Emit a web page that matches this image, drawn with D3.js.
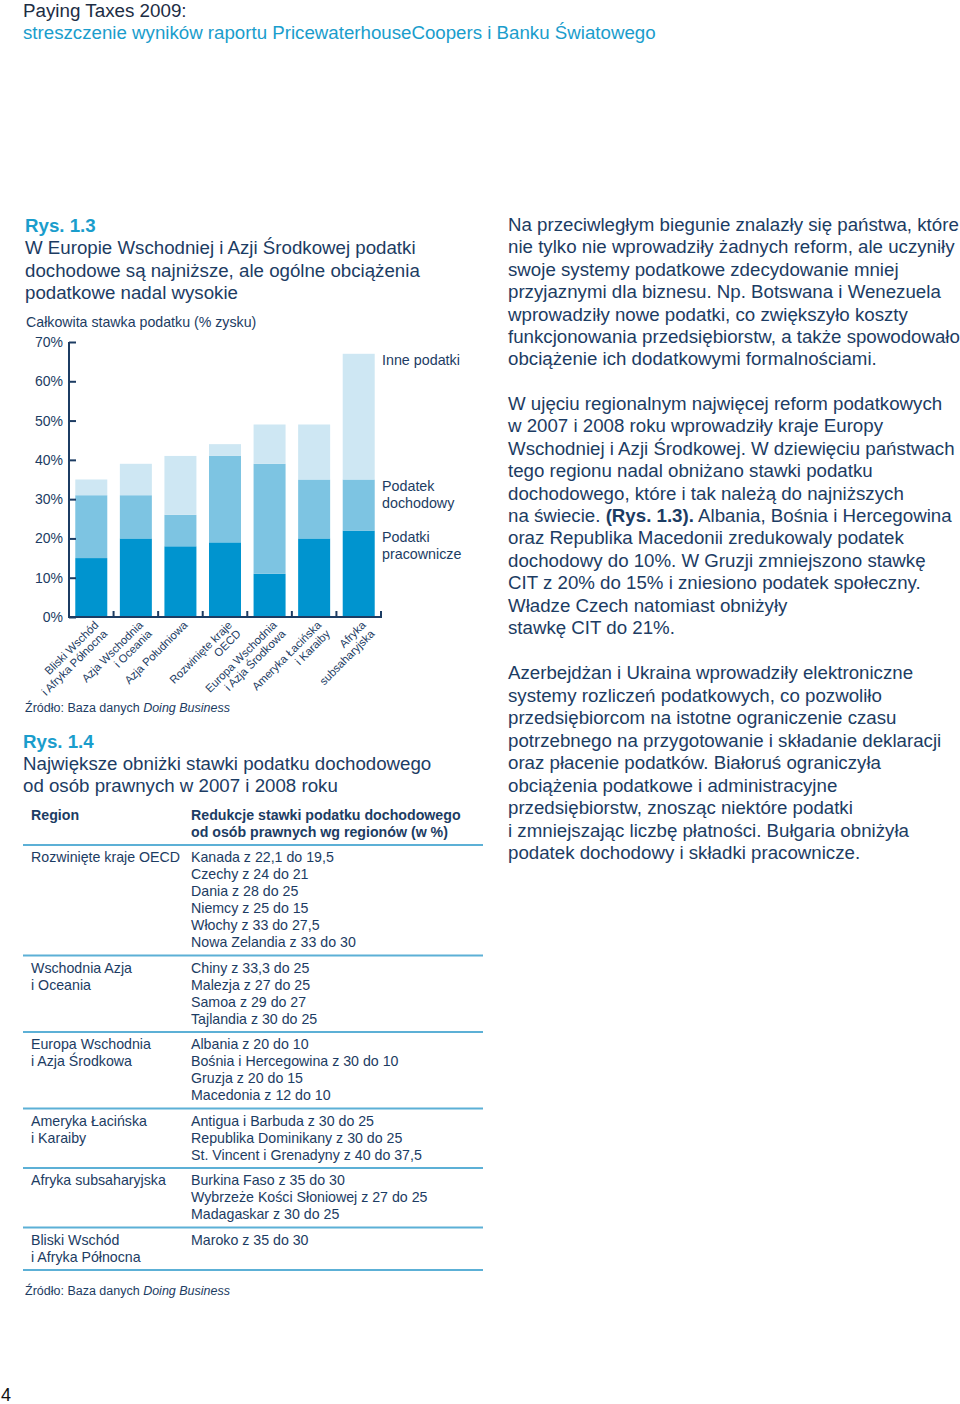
<!DOCTYPE html>
<html><head><meta charset="utf-8">
<script src="https://cdn.jsdelivr.net/npm/d3@7"></script>
<style>
html,body{margin:0;padding:0;background:#fff;}
svg{display:block;font-family:"Liberation Sans",Arial,sans-serif;}
</style></head>
<body>
<script>
// ---- data ----
const categories = [
  ["Bliski Wschód","i Afryka Północna"],
  ["Azja Wschodnia","i Oceania"],
  ["Azja Południowa"],
  ["Rozwinięte kraje","OECD"],
  ["Europa Wschodnia","i Azja Środkowa"],
  ["Ameryka Łacińska","i Karaiby"],
  ["Afryka","subsaharyjska"]
];
const labourTax = [15, 20, 18, 19, 11, 20, 22];
const profitTax = [16, 11, 8, 22, 28, 15, 13];
const otherTax  = [4, 8, 15, 3, 10, 14, 32];
const seriesNames = ["Podatki pracownicze", "Podatek dochodowy", "Inne podatki"];
const yTicks = [0, 10, 20, 30, 40, 50, 60, 70];

const tableRegions = [
  ["Rozwinięte kraje OECD"],
  ["Wschodnia Azja","i Oceania"],
  ["Europa Wschodnia","i Azja Środkowa"],
  ["Ameryka Łacińska","i Karaiby"],
  ["Afryka subsaharyjska"],
  ["Bliski Wschód","i Afryka Północna"]
];
const tableReductions = [
  ["Kanada z 22,1 do 19,5","Czechy z 24 do 21","Dania z 28 do 25","Niemcy z 25 do 15","Włochy z 33 do 27,5","Nowa Zelandia z 33 do 30"],
  ["Chiny z 33,3 do 25","Malezja z 27 do 25","Samoa z 29 do 27","Tajlandia z 30 do 25"],
  ["Albania z 20 do 10","Bośnia i Hercegowina z 30 do 10","Gruzja z 20 do 15","Macedonia z 12 do 10"],
  ["Antigua i Barbuda z 30 do 25","Republika Dominikany z 30 do 25","St. Vincent i Grenadyny z 40 do 37,5"],
  ["Burkina Faso z 35 do 30","Wybrzeże Kości Słoniowej z 27 do 25","Madagaskar z 30 do 25"],
  ["Maroko z 35 do 30"]
];

const para1 = [
  "Na przeciwległym biegunie znalazły się państwa, które",
  "nie tylko nie wprowadziły żadnych reform, ale uczyniły",
  "swoje systemy podatkowe zdecydowanie mniej",
  "przyjaznymi dla biznesu. Np. Botswana i Wenezuela",
  "wprowadziły nowe podatki, co zwiększyło koszty",
  "funkcjonowania przedsiębiorstw, a także spowodowało",
  "obciążenie ich dodatkowymi formalnościami."
];
const para2 = [
  [["W ujęciu regionalnym najwięcej reform podatkowych"]],
  [["w 2007 i 2008 roku wprowadziły kraje Europy"]],
  [["Wschodniej i Azji Środkowej. W dziewięciu państwach"]],
  [["tego regionu nadal obniżano stawki podatku"]],
  [["dochodowego, które i tak należą do najniższych"]],
  [["na świecie. "],["(Rys. 1.3).","b"],[" Albania, Bośnia i Hercegowina"]],
  [["oraz Republika Macedonii zredukowaly podatek"]],
  [["dochodowy do 10%. W Gruzji zmniejszono stawkę"]],
  [["CIT z 20% do 15% i zniesiono podatek społeczny."]],
  [["Władze Czech natomiast obniżyły"]],
  [["stawkę CIT do 21%."]]
];
const para3 = [
  "Azerbejdżan i Ukraina wprowadziły elektroniczne",
  "systemy rozliczeń podatkowych, co pozwoliło",
  "przedsiębiorcom na istotne ograniczenie czasu",
  "potrzebnego na przygotowanie i składanie deklaracji",
  "oraz płacenie podatków. Białoruś ograniczyła",
  "obciążenia podatkowe i administracyjne",
  "przedsiębiorstw, znosząc niektóre podatki",
  "i zmniejszając liczbę płatności. Bułgaria obniżyła",
  "podatek dochodowy i składki pracownicze."
];

// ---- styles ----
const NAVY = "#1c3c63";
const CYAN = "#1a9dcc";
const LINE = "#5cb0d6";
const colors = ["#0094cf", "#7dc4e2", "#cee7f3"];
const BIG = 18.7, SMALL = 14.2;

const svg = d3.select("body").append("svg").attr("width", 960).attr("height", 1404);

// header
svg.append("text").attr("x", 23).attr("y", 17).attr("font-size", 18.8).attr("fill", "#1d2d44").text("Paying Taxes 2009:");
svg.append("text").attr("x", 23).attr("y", 39).attr("font-size", 18.7).attr("fill", CYAN).text("streszczenie wyników raportu PricewaterhouseCoopers i Banku Światowego");

// figure 1.3 titles
svg.append("text").attr("x", 25).attr("y", 232).attr("font-size", BIG).attr("font-weight", "bold").attr("fill", CYAN).text("Rys. 1.3");
["W Europie Wschodniej i Azji Środkowej podatki","dochodowe są najniższe, ale ogólne obciążenia","podatkowe nadal wysokie"].forEach((t,i)=>{
  svg.append("text").attr("x", 25).attr("y", 254 + i*22.5).attr("font-size", BIG).attr("fill", NAVY).text(t);
});
svg.append("text").attr("x", 26).attr("y", 327).attr("font-size", SMALL).attr("fill", NAVY).text("Całkowita stawka podatku (% zysku)");

// chart
const x = d3.scaleBand().domain(d3.range(categories.length)).range([69, 381]).paddingInner(0.282).paddingOuter(0.141);
const y = d3.scaleLinear().domain([0, 70]).range([617, 342]);

const stackData = categories.map((c,i)=>({i, labour: labourTax[i], profit: profitTax[i], other: otherTax[i]}));
const stack = d3.stack().keys(["labour","profit","other"])(stackData);
const g = svg.append("g");
g.selectAll("g.series").data(stack).join("g").attr("fill", (d,k)=>colors[k])
  .selectAll("rect").data(d=>d).join("rect")
  .attr("x", d=>x(d.data.i)).attr("width", x.bandwidth())
  .attr("y", d=>y(d[1])).attr("height", d=>y(d[0]) - y(d[1]));

// y axis
const yAxis = g.append("g").attr("transform", "translate(69,0)")
  .call(d3.axisRight(y).tickValues(yTicks).tickSize(7).tickFormat(""));
yAxis.selectAll("path,line").attr("stroke", NAVY).attr("stroke-width", 2);
yAxis.select(".domain").attr("d", `M0,${y(70)}V${y(0)}`);
g.selectAll("text.ytick").data(yTicks).join("text").attr("class","ytick")
  .attr("x", 63).attr("y", d=>y(d)+5).attr("text-anchor","end").attr("font-size", 14).attr("fill", NAVY)
  .text(d=>d + "%");

// x axis
g.append("line").attr("x1", 68).attr("x2", 382).attr("y1", y(0)).attr("y2", y(0)).attr("stroke", NAVY).attr("stroke-width", 2);
const step = x.step();
g.selectAll("line.xtick").data(d3.range(1, categories.length + 1)).join("line").attr("class","xtick")
  .attr("x1", d=>69 + d*step).attr("x2", d=>69 + d*step)
  .attr("y1", y(0)).attr("y2", y(0) - 6).attr("stroke", NAVY).attr("stroke-width", 2);

// x labels
categories.forEach((lines,i)=>{
  const cx = x(i) + x.bandwidth()/2 + 5;
  const t = g.append("text").attr("transform", `translate(${cx},${y(0)+6}) rotate(-45)`)
    .attr("text-anchor","end").attr("font-size", 11.3).attr("fill", NAVY);
  lines.forEach((l,j)=>{
    t.append("tspan").attr("x", 0).attr("dy", j===0 ? "0.35em" : "1.1em").text(l);
  });
});

// series labels
const legend = [
  {lines:["Inne podatki"], y:365},
  {lines:["Podatek","dochodowy"], y:491},
  {lines:["Podatki","pracownicze"], y:542}
];
legend.forEach(L=>{
  L.lines.forEach((l,j)=>{
    svg.append("text").attr("x", 382).attr("y", L.y + j*16.5).attr("font-size", 14.3).attr("fill", NAVY).text(l);
  });
});

// source
function source(yy){
  const t = svg.append("text").attr("x", 25).attr("y", yy).attr("font-size", 12.5).attr("fill", NAVY);
  t.append("tspan").text("Źródło: Baza danych ");
  t.append("tspan").attr("font-style","italic").text("Doing Business");
}
source(712);

// figure 1.4
svg.append("text").attr("x", 23).attr("y", 748).attr("font-size", BIG).attr("font-weight","bold").attr("fill", CYAN).text("Rys. 1.4");
["Największe obniżki stawki podatku dochodowego","od osób prawnych w 2007 i 2008 roku"].forEach((t,i)=>{
  svg.append("text").attr("x", 23).attr("y", 770 + i*22).attr("font-size", BIG).attr("fill", NAVY).text(t);
});
svg.append("text").attr("x", 31).attr("y", 820).attr("font-size", SMALL).attr("font-weight","bold").attr("fill", NAVY).text("Region");
["Redukcje stawki podatku dochodowego","od osób prawnych wg regionów (w %)"].forEach((t,i)=>{
  svg.append("text").attr("x", 191).attr("y", 820 + i*17).attr("font-size", SMALL).attr("font-weight","bold").attr("fill", NAVY).text(t);
});
let sepY = 845;
const tline = yy => svg.append("line").attr("x1", 23).attr("x2", 483).attr("y1", yy).attr("y2", yy).attr("stroke", LINE).attr("stroke-width", 2);
tline(sepY);
tableRegions.forEach((reg, r)=>{
  const base = sepY + 17;
  reg.forEach((l,j)=>svg.append("text").attr("x", 31).attr("y", base + j*17).attr("font-size", SMALL).attr("fill", NAVY).text(l));
  const red = tableReductions[r];
  red.forEach((l,j)=>svg.append("text").attr("x", 191).attr("y", base + j*17).attr("font-size", SMALL).attr("fill", NAVY).text(l));
  const n = Math.max(reg.length, red.length);
  sepY = base + (n-1)*17 + 8.5;
  tline(sepY);
});
source(sepY + 25);

// right column
const RX = 508, LH = 22.4;
para1.forEach((l,i)=>svg.append("text").attr("x", RX).attr("y", 231 + i*LH).attr("font-size", BIG).attr("fill", NAVY).text(l));
para2.forEach((parts,i)=>{
  const t = svg.append("text").attr("x", RX).attr("y", 410 + i*LH).attr("font-size", BIG).attr("fill", NAVY).attr("xml:space","preserve");
  parts.forEach(p=>{ const s = t.append("tspan").text(p[0]); if (p[1]==="b") s.attr("font-weight","bold"); });
});
para3.forEach((l,i)=>svg.append("text").attr("x", RX).attr("y", 679 + i*22.5).attr("font-size", BIG).attr("fill", NAVY).text(l));

// page number
svg.append("text").attr("x", 1).attr("y", 1401).attr("font-size", 18).attr("fill", "#111").text("4");
</script>
</body></html>
